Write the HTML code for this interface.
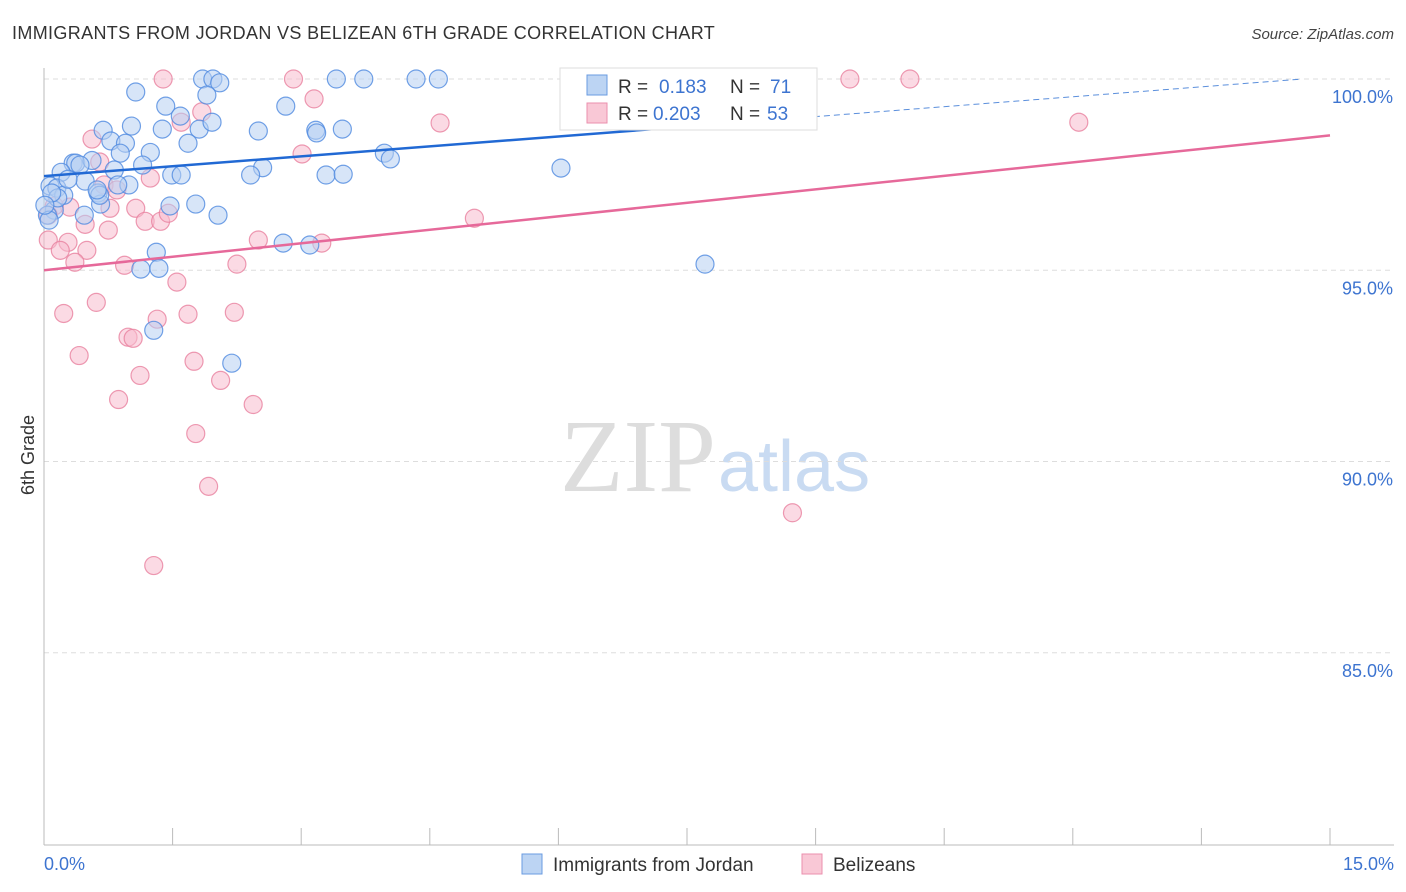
<!DOCTYPE html>
<html><head><meta charset="utf-8"><style>
body{margin:0;background:#fff;font-family:"Liberation Sans",sans-serif;}
#wrap{position:relative;width:1406px;height:892px;overflow:hidden;}
</style></head><body>
<div id="wrap">
<svg id="svg" width="1406" height="892" xmlns="http://www.w3.org/2000/svg">
<text x="12" y="39" font-size="18" fill="#333" letter-spacing="0.35">IMMIGRANTS FROM JORDAN VS BELIZEAN 6TH GRADE CORRELATION CHART</text>
<text x="1394" y="39" font-size="15" fill="#444" text-anchor="end" font-style="italic">Source: ZipAtlas.com</text>
<text x="716" y="491" font-size="104" fill="#ddd" text-anchor="end" font-family="Liberation Serif">ZIP</text>
<text x="718" y="491" font-size="72" fill="#c9dbf2">atlas</text>
<g id="grid"></g>
<g id="axes"></g>
<g id="pts"></g>
<g id="lines"></g>
<text transform="translate(34,455) rotate(-90)" font-size="18" fill="#333" text-anchor="middle">6th Grade</text>
<text x="44" y="870" font-size="18" fill="#3d74d0">0.0%</text>
<text x="1394" y="870" font-size="18" fill="#3d74d0" text-anchor="end">15.0%</text>
<g>
<rect x="560" y="68" width="257" height="62" fill="#fff" stroke="#ddd"/>
<rect x="587" y="75" width="20" height="20" fill="#bcd4f3" stroke="#6a9be0"/>
<rect x="587" y="103" width="20" height="20" fill="#f9c8d6" stroke="#eb8fae"/>
<text x="618" y="93" font-size="19" fill="#333">R = </text><text x="659" y="93" font-size="19" fill="#3d74d0">0.183</text>
<text x="730" y="93" font-size="19" fill="#333">N = </text><text x="770" y="93" font-size="19" fill="#3d74d0">71</text>
<text x="618" y="120" font-size="19" fill="#333">R = </text><text x="653" y="120" font-size="19" fill="#3d74d0">0.203</text>
<text x="730" y="120" font-size="19" fill="#333">N = </text><text x="767" y="120" font-size="19" fill="#3d74d0">53</text>
</g>
<g>
<rect x="522" y="854" width="20" height="20" fill="#bcd4f3" stroke="#6a9be0"/>
<text x="553" y="871" font-size="19" fill="#333">Immigrants from Jordan</text>
<rect x="802" y="854" width="20" height="20" fill="#f9c8d6" stroke="#eb8fae"/>
<text x="833" y="871" font-size="19" fill="#333">Belizeans</text>
</g>
</svg>
</div>
<script>
const yTicks=[100,95,90,85];
const yTickLabels=["100.0%","95.0%","90.0%","85.0%"];
const xTicks=[0,1.5,3,4.5,6,7.5,9,10.5,12,13.5,15];
const jordanX=[1.07,1.42,1.85,1.97,2.05,3.41,3.73,4.34,4.6,1.9,1.59,2.82,0.69,1.02,1.38,1.81,1.96,2.5,3.17,3.48,3.18,1.68,0.78,0.95,0.89,1.24,0.34,0.37,0.56,0.82,1.15,3.97,4.04,2.55,2.41,3.29,3.49,1.49,1.6,0.99,0.48,0.2,0.07,0.15,0.23,0.63,0.66,1.47,1.77,2.03,0.47,0.12,0.04,2.79,3.1,1.31,1.13,1.34,1.28,2.19,6.03,7.71,0.06,0.16,0.28,0.09,0.65,0.01,0.42,0.86,0.62];
const jordanY=[99.66,99.29,100,100,99.9,100,100,100,100,99.58,99.03,99.29,98.66,98.77,98.69,98.69,98.87,98.64,98.66,98.69,98.59,98.32,98.38,98.32,98.06,98.08,97.8,97.8,97.87,97.62,97.75,98.06,97.91,97.68,97.49,97.49,97.51,97.49,97.49,97.23,97.33,97.56,97.2,97.15,96.96,97.02,96.73,96.68,96.73,96.44,96.44,96.57,96.44,95.71,95.66,95.47,95.03,95.05,93.43,92.57,97.67,95.16,96.31,96.89,97.38,97.02,96.96,96.7,97.75,97.23,97.1];
const belX=[1.39,2.91,9.4,10.1,3.15,4.62,12.07,1.84,1.6,0.56,3.01,0.65,0.7,0.85,1.24,0.3,0.12,0.77,1.07,1.18,1.36,1.45,0.48,0.75,0.05,0.05,0.28,0.19,0.5,0.36,0.94,2.5,3.24,2.25,5.02,1.55,0.61,0.23,1.68,2.22,1.32,0.98,1.04,0.41,1.75,1.12,2.06,0.87,2.44,1.77,1.92,1.28,8.73];
const belY=[100,100,100,100,99.48,98.85,98.87,99.14,98.87,98.43,98.04,97.83,97.23,97.1,97.41,96.65,96.68,96.62,96.62,96.28,96.28,96.49,96.2,96.05,96.44,95.79,95.73,95.52,95.52,95.21,95.13,95.79,95.71,95.16,96.36,94.69,94.16,93.87,93.85,93.9,93.72,93.25,93.22,92.77,92.62,92.25,92.12,91.62,91.49,90.73,89.35,87.28,88.66];
const jordanTrend=[97.46,0.173];
const belTrend=[95.0,0.235];
const X0=44,X1=1330,Y100=79,PXPER=38.25;
const sx=v=>X0+(v/15)*(X1-X0);
const sy=v=>Y100+(100-v)*PXPER;
const NS="http://www.w3.org/2000/svg";
function mk(tag,parent,attrs){const e=document.createElementNS(NS,tag);for(const k in attrs)e.setAttribute(k,attrs[k]);parent.appendChild(e);return e;}
const grid=document.getElementById('grid'),axes=document.getElementById('axes'),pts=document.getElementById('pts'),lines=document.getElementById('lines');
yTicks.forEach((t,i)=>{
 const l=mk('line',grid,{x1:44,x2:1394,y1:sy(t),y2:sy(t),stroke:'#ddd','stroke-dasharray':'5,4'});
 
 
 const tx=mk('text',grid,{x:1393,y:sy(t)+24,'font-size':18,fill:'#3d74d0','text-anchor':'end'});
 tx.textContent=yTickLabels[i];
 
 
});
const ya=mk('line',axes,{x1:44,x2:44,y1:68,y2:845,stroke:'#bbb'});


const xa=mk('line',axes,{x1:44,x2:1394,y1:845,y2:845,stroke:'#bbb'});


xTicks.forEach(t=>{
 const l=mk('line',axes,{x1:sx(t),x2:sx(t),y1:828,y2:845,stroke:'#bbb'});
 
 
});
function dots(xs,ys,fill,stroke,name){
 xs.forEach((x,i)=>{
  const c=mk('circle',pts,{cx:sx(x),cy:sy(ys[i]),r:9,fill:fill,'fill-opacity':0.55,stroke:stroke,'stroke-width':1.2,'stroke-opacity':0.8});
  
  
 });
}
dots(belX,belY,'#f7bccd','#e8819f','belizean-point');
dots(jordanX,jordanY,'#b6cff2','#4f8ae0','jordan-point');
const fj=x=>jordanTrend[0]+jordanTrend[1]*x, fb=x=>belTrend[0]+belTrend[1]*x;
const l1=mk('line',lines,{x1:sx(0),y1:sy(fj(0)),x2:sx(8.05),y2:sy(fj(8.05)),stroke:'#2169d4','stroke-width':2.5});


const l2=mk('line',lines,{x1:sx(8.05),y1:sy(fj(8.05)),x2:sx(14.65),y2:sy(fj(14.65)),stroke:'#5b8fdc','stroke-width':1,'stroke-dasharray':'6,4'});


const l3=mk('line',lines,{x1:sx(0),y1:sy(fb(0)),x2:sx(15),y2:sy(fb(15)),stroke:'#e6699a','stroke-width':2.5});


</script>
</body></html>
